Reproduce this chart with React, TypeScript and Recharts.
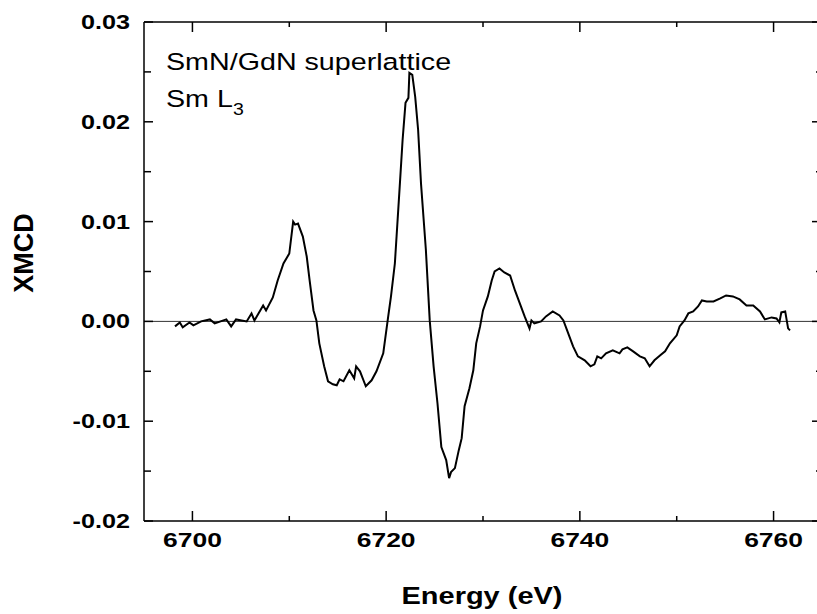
import { LineChart, Line, XAxis, YAxis, ReferenceLine } from 'recharts';

// energy (eV) and XMCD signal
const energy = [
  6698.2, 6698.7, 6699.0, 6699.7, 6700.1, 6700.9, 6701.8, 6702.3, 6703.5, 6704.0,
  6704.5, 6705.6, 6706.1, 6706.4, 6707.3, 6707.6, 6708.3, 6708.8, 6709.4, 6710.0,
  6710.4, 6710.6, 6710.9, 6711.4, 6711.8, 6712.1, 6712.5, 6712.8, 6713.1, 6713.6,
  6714.0, 6714.5, 6714.9, 6715.2, 6715.6, 6716.2, 6716.7, 6716.9, 6717.3, 6717.9,
  6718.5, 6719.0, 6719.7, 6720.2, 6720.5, 6720.9, 6721.4, 6721.7, 6722.0, 6722.3,
  6722.4, 6722.7, 6723.0, 6723.3, 6723.6, 6724.1, 6724.5, 6724.9, 6725.3, 6725.7,
  6726.2, 6726.5, 6726.7, 6727.1, 6727.5, 6727.8, 6728.1, 6728.6, 6729.0, 6729.3,
  6729.7, 6730.0, 6730.5, 6730.9, 6731.2, 6731.7, 6732.2, 6732.8, 6733.3, 6733.8,
  6734.3, 6734.8, 6735.0, 6735.3, 6736.0, 6736.5, 6737.2, 6737.9, 6738.3, 6738.8,
  6739.3, 6739.8, 6740.5, 6741.1, 6741.5, 6741.8, 6742.2, 6742.7, 6743.4, 6744.1,
  6744.4, 6744.9, 6745.5, 6746.2, 6746.7, 6747.2, 6747.7, 6748.3, 6748.8, 6749.3,
  6750.0, 6750.3, 6750.8, 6751.2, 6751.7, 6752.2, 6752.6, 6753.1, 6753.8, 6754.5,
  6755.1, 6755.8, 6756.5, 6757.2, 6757.9, 6758.6, 6759.1, 6759.8, 6760.3, 6760.6,
  6760.8, 6761.2, 6761.5, 6761.7,
];

const xmcd = [
  -0.0005, -0.0001, -0.0006, -0.0001, -0.0004, 0.0, 0.0002, -0.0002, 0.0002, -0.0005,
  0.0002, 0.0, 0.0008, 0.0001, 0.0016, 0.0011, 0.0024, 0.0041, 0.0058, 0.0068,
  0.01, 0.0097, 0.0098, 0.0085, 0.0065, 0.0041, 0.0011, 0.0001, -0.0022, -0.0045,
  -0.006, -0.0063, -0.0064, -0.0058, -0.006, -0.0049, -0.0057, -0.0045, -0.005, -0.0065,
  -0.0059, -0.005, -0.0032, 0.0004, 0.0025, 0.0058, 0.0135, 0.0182, 0.0219, 0.0224,
  0.0249, 0.0247, 0.0225, 0.0192, 0.0138, 0.0072, 0.0001, -0.0045, -0.0082, -0.0126,
  -0.0139, -0.0157, -0.0151, -0.0147, -0.0129, -0.0117, -0.0085, -0.0067, -0.0049, -0.0022,
  -0.0005, 0.0011, 0.0025, 0.0041, 0.005, 0.0053, 0.0049, 0.0046, 0.0031, 0.0018,
  0.0005, -0.0007, 0.0001, -0.0002, 0.0, 0.0005, 0.001, 0.0006, 0.0001, -0.0012,
  -0.0025, -0.0035, -0.0039, -0.0045, -0.0043, -0.0035, -0.0037, -0.0032, -0.0029, -0.0032,
  -0.0028, -0.0026, -0.003, -0.0035, -0.0037, -0.0045, -0.0039, -0.0034, -0.003, -0.0022,
  -0.0014, -0.0005, 0.0001, 0.0008, 0.001, 0.0015, 0.0021, 0.002, 0.002, 0.0023,
  0.0026, 0.0025, 0.0022, 0.0016, 0.0016, 0.001, 0.0002, 0.0004, 0.0003, -0.0001,
  0.0009, 0.001, -0.0007, -0.0009,
];

const xDomain = [6695, 6765];
const yDomain = [-0.02, 0.03];
const xTicks = [6700, 6710, 6720, 6730, 6740, 6750, 6760];
const xLabels = ['6700', '', '6720', '', '6740', '', '6760'];
const yTicks = [-0.02, -0.015, -0.01, -0.005, 0, 0.005, 0.01, 0.015, 0.02, 0.025, 0.03];
const yLabels = ['-0.02', '', '-0.01', '', '0.00', '', '0.01', '', '0.02', '', '0.03'];

const data = energy.map((e, i) => ({ e, v: xmcd[i] }));

const FONT = '"Liberation Sans", Arial, sans-serif';
const SX = 1.26; // tick text in the source is drawn wide

// the source picture is cropped: its right axis sits just past the edge
const W = 817;
const CHART_W = 822;
const H = 614;
const M = { top: 22, right: 0, bottom: 0, left: 0 };
const Y_W = 144;
const X_H = 93;
// frame edges, ticks point inward from these
const LEFT = M.left + Y_W;
const RIGHT = CHART_W - M.right;
const TOP = M.top;
const BOTTOM = H - M.bottom - X_H;

const labelFor = (ticks: number[], labels: string[], v: number) => {
  const i = ticks.findIndex((t) => Math.abs(t - v) < 1e-9);
  return i >= 0 ? labels[i] : '';
};

// left ticks + mirrored right ticks
const YTick = (props: any) => {
  const { y, payload } = props;
  const lab = labelFor(yTicks, yLabels, payload.value);
  return (
    <g>
      <line x1={LEFT} x2={LEFT + (lab ? 9 : 7)} y1={y} y2={y} stroke="#000" strokeWidth={1.5} />
      <line x1={RIGHT} x2={RIGHT - (lab ? 10 : 6)} y1={y} y2={y} stroke="#000" strokeWidth={1.5} />
      {lab && (
        <text
          transform={`translate(${LEFT - 14},${y + 7}) scale(${SX},1)`}
          textAnchor="end"
          fontFamily={FONT}
          fontWeight="bold"
          fontSize={20}
          fill="#000"
        >
          {lab}
        </text>
      )}
    </g>
  );
};

// bottom ticks + mirrored top ticks
const XTick = (props: any) => {
  const { x, payload } = props;
  const lab = labelFor(xTicks, xLabels, payload.value);
  const len = lab ? 10 : 5;
  return (
    <g>
      <line x1={x} x2={x} y1={BOTTOM} y2={BOTTOM - len} stroke="#000" strokeWidth={1.5} />
      <line x1={x} x2={x} y1={TOP} y2={TOP + len} stroke="#000" strokeWidth={1.5} />
      {lab && (
        <text
          transform={`translate(${x},${BOTTOM + 26}) scale(${SX},1)`}
          textAnchor="middle"
          fontFamily={FONT}
          fontWeight="bold"
          fontSize={21}
          fill="#000"
        >
          {lab}
        </text>
      )}
    </g>
  );
};

export default function App() {
  return (
    <div style={{ position: 'relative', width: W, height: H, background: '#fff', overflow: 'hidden' }}>
      <style>{'body{margin:0;overflow:hidden}'}</style>
      <LineChart width={CHART_W} height={H} data={data} margin={M}>
        <XAxis
          dataKey="e"
          type="number"
          domain={xDomain}
          ticks={xTicks}
          tickLine={false}
          tick={XTick}
          height={X_H}
          axisLine={{ stroke: '#000', strokeWidth: 1.5 }}
          allowDataOverflow
        />
        <YAxis
          type="number"
          domain={yDomain}
          ticks={yTicks}
          tickLine={false}
          tick={YTick}
          width={Y_W}
          axisLine={{ stroke: '#000', strokeWidth: 1.5 }}
          allowDataOverflow
        />
        <ReferenceLine y={yDomain[1]} stroke="#000" strokeWidth={1.5} />
        <ReferenceLine x={xDomain[1]} stroke="#000" strokeWidth={1.5} />
        <ReferenceLine y={0} stroke="#333" strokeWidth={1} />
        <Line
          dataKey="v"
          type="linear"
          stroke="#000"
          strokeWidth={2}
          dot={false}
          isAnimationActive={false}
        />
      </LineChart>
      <svg
        width={W}
        height={H}
        style={{ position: 'absolute', left: 0, top: 0, pointerEvents: 'none' }}
        fontFamily={FONT}
      >
        <text transform="translate(166,70) scale(1.22,1)" fontSize={23.5} fill="#000">
          SmN/GdN superlattice
        </text>
        <text transform="translate(166,107) scale(1.22,1)" fontSize={23.5} fill="#000">
          Sm L<tspan fontSize={16} dy={8}>3</tspan>
        </text>
        <text
          transform={`translate(482,604) scale(${SX},1)`}
          textAnchor="middle"
          fontWeight="bold"
          fontSize={23}
          fill="#000"
        >
          Energy (eV)
        </text>
        <text
          transform="translate(33,253) rotate(-90)"
          textAnchor="middle"
          fontWeight="bold"
          fontSize={27}
          fill="#000"
        >
          XMCD
        </text>
      </svg>
    </div>
  );
}
